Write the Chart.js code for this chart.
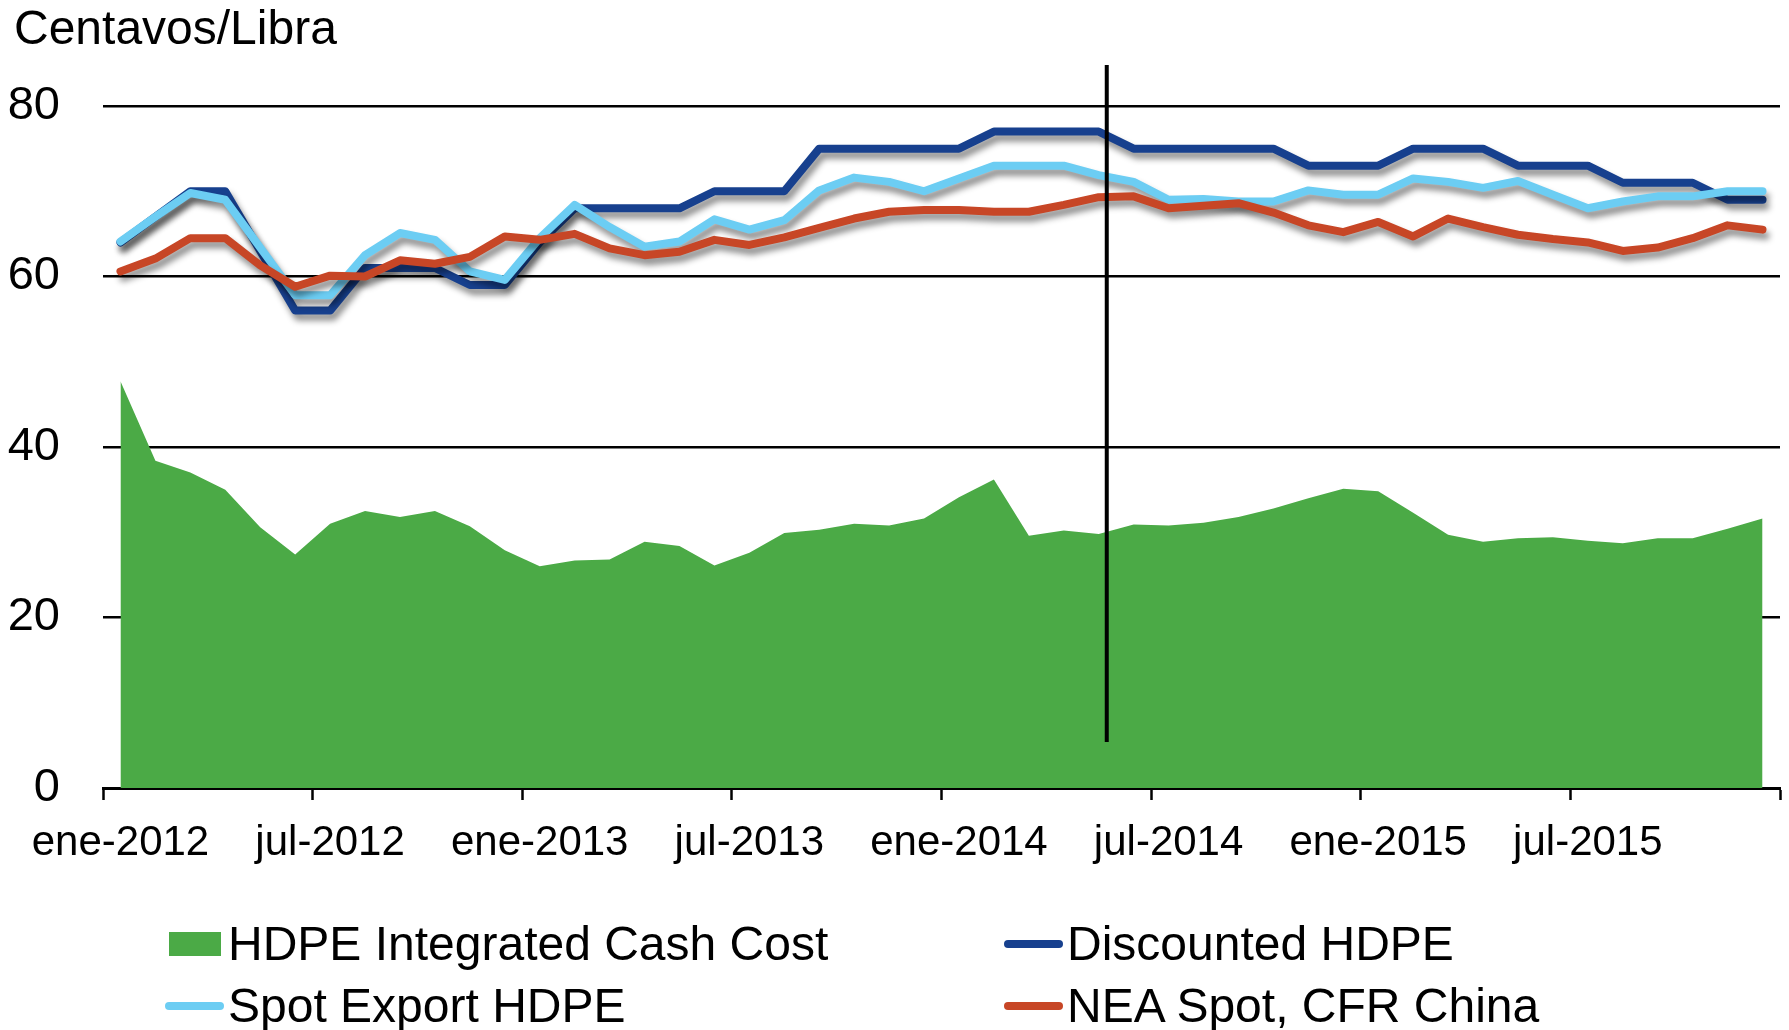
<!DOCTYPE html>
<html>
<head>
<meta charset="utf-8">
<script src="https://cdn.jsdelivr.net/npm/chart.js@4.4.1/dist/chart.umd.min.js"></script>
<style>
  html, body { margin: 0; padding: 0; background: #fff; }
  #wrap { position: relative; width: 1789px; height: 1030px; font-family: "Liberation Sans", Arial, sans-serif; color: #000; overflow: hidden; }
  #wrap canvas { position: absolute; left: 0; top: 0; }
  #title { position: absolute; left: 14px; top: 4px; font-size: 48px; line-height: 48px; white-space: nowrap; }
  #legend { position: absolute; left: 165px; top: 920px; display: grid; grid-template-columns: 839px auto; grid-auto-rows: 62px; }
  .item { display: flex; align-items: center; height: 48px; font-size: 48px; line-height: 48px; white-space: nowrap; }
  .mk { position: relative; width: 59px; height: 48px; margin-right: 4px; flex: none; }
  .mk span { position: absolute; display: block; }
  .mk .box { left: 4px; top: 12px; width: 52px; height: 24px; }
  .mk .ln { left: 0; top: 20px; width: 59px; height: 8px; border-radius: 4px; }
</style>
</head>
<body>
<div id="wrap">
  <canvas id="c" width="1789" height="1030"></canvas>
  <div id="title">Centavos/Libra</div>
  <div id="legend"></div>
</div>
<script>
// ---- Data ----
const months = [
  'ene-2012','feb-2012','mar-2012','abr-2012','may-2012','jun-2012','jul-2012','ago-2012','sep-2012','oct-2012','nov-2012','dic-2012',
  'ene-2013','feb-2013','mar-2013','abr-2013','may-2013','jun-2013','jul-2013','ago-2013','sep-2013','oct-2013','nov-2013','dic-2013',
  'ene-2014','feb-2014','mar-2014','abr-2014','may-2014','jun-2014','jul-2014','ago-2014','sep-2014','oct-2014','nov-2014','dic-2014',
  'ene-2015','feb-2015','mar-2015','abr-2015','may-2015','jun-2015','jul-2015','ago-2015','sep-2015','oct-2015','nov-2015','dic-2015'
];
const tickLabels = ['ene-2012','jul-2012','ene-2013','jul-2013','ene-2014','jul-2014','ene-2015','jul-2015'];
const tickEvery = 6;

const cashCost = [47.7, 38.4, 37.0, 35.0, 30.6, 27.4, 31.0, 32.5, 31.8, 32.5, 30.7, 27.9,
                  26.0, 26.7, 26.8, 28.9, 28.4, 26.1, 27.6, 29.9, 30.3, 31.0, 30.8, 31.6,
                  34.1, 36.2, 29.6, 30.2, 29.8, 30.9, 30.8, 31.1, 31.8, 32.8, 34.0, 35.1,
                  34.8, 32.3, 29.7, 28.9, 29.3, 29.4, 29.0, 28.7, 29.3, 29.3, 30.4, 31.6];
const discounted = [64, 67, 70, 70, 63, 56, 56, 61, 61, 61, 59, 59,
                    64, 68, 68, 68, 68, 70, 70, 70, 75, 75, 75, 75,
                    75, 77, 77, 77, 77, 75, 75, 75, 75, 75, 73, 73,
                    73, 75, 75, 75, 73, 73, 73, 71, 71, 71, 69, 69];
const spotExport = [64.1, 67.0, 69.8, 69.0, 63.4, 57.8, 57.8, 62.5, 65.1, 64.3, 60.6, 59.6,
                    64.5, 68.4, 65.8, 63.5, 64.1, 66.7, 65.5, 66.6, 70.1, 71.6, 71.1, 70.0,
                    71.5, 73.0, 73.0, 73.0, 71.9, 71.1, 69.0, 69.1, 68.8, 68.8, 70.1, 69.6,
                    69.6, 71.5, 71.1, 70.4, 71.2, 69.6, 68.0, 68.8, 69.4, 69.4, 70.0, 70.0];
const neaSpot = [60.6, 62.1, 64.5, 64.5, 61.3, 58.8, 60.1, 60.0, 61.9, 61.5, 62.3, 64.7,
                 64.3, 65.0, 63.3, 62.5, 62.9, 64.3, 63.7, 64.6, 65.7, 66.8, 67.6, 67.8,
                 67.8, 67.6, 67.6, 68.4, 69.3, 69.4, 68.0, 68.3, 68.6, 67.5, 66.0, 65.2,
                 66.4, 64.7, 66.8, 65.8, 64.9, 64.4, 64.0, 63.0, 63.4, 64.5, 66.0, 65.5];

const seriesNames = ['HDPE Integrated Cash Cost', 'Discounted HDPE', 'Spot Export HDPE', 'NEA Spot, CFR China'];
const seriesColors = ['#4BAA46', '#17408E', '#6CCDF3', '#C74626'];

// vertical marker (in data units: category position, value range)
const markerIndex = 28.23;
const markerTop = 84.8;
const markerBottom = 5.4;

const yMin = 0, yMax = 80, yStep = 20;

// ---- Plugins ----
const lineShadow = {
  id: 'lineShadow',
  beforeDatasetDraw(chart, args) {
    const ds = chart.data.datasets[args.index];
    if (!ds.fill) {
      const ctx = chart.ctx;
      ctx.save();
      ctx.shadowColor = 'rgba(0,0,0,0.45)';
      ctx.shadowBlur = 6;
      ctx.shadowOffsetX = 3;
      ctx.shadowOffsetY = 6;
    }
  },
  afterDatasetDraw(chart, args) {
    const ds = chart.data.datasets[args.index];
    if (!ds.fill) chart.ctx.restore();
  }
};

const markerLine = {
  id: 'markerLine',
  afterDatasetsDraw(chart) {
    const { ctx, scales: { x, y } } = chart;
    const px = x.getPixelForValue(markerIndex);
    ctx.save();
    ctx.strokeStyle = '#000';
    ctx.lineWidth = 4;
    ctx.beginPath();
    ctx.moveTo(px, y.getPixelForValue(markerTop));
    ctx.lineTo(px, y.getPixelForValue(markerBottom));
    ctx.stroke();
    ctx.restore();
  }
};

const lineCommon = { type: 'line', fill: false, borderWidth: 8, pointRadius: 0, pointHoverRadius: 0, tension: 0,
                     borderCapStyle: 'round', borderJoinStyle: 'round' };

const chart = new Chart(document.getElementById('c'), {
  data: {
    labels: months,
    datasets: [
      { type: 'line', label: seriesNames[0], data: cashCost, fill: 'origin', backgroundColor: seriesColors[0],
        borderColor: seriesColors[0], borderWidth: 0, pointRadius: 0, pointHoverRadius: 0, tension: 0, order: 4 },
      Object.assign({}, lineCommon, { label: seriesNames[1], data: discounted, borderColor: seriesColors[1], backgroundColor: seriesColors[1], order: 3 }),
      Object.assign({}, lineCommon, { label: seriesNames[2], data: spotExport, borderColor: seriesColors[2], backgroundColor: seriesColors[2], order: 2 }),
      Object.assign({}, lineCommon, { label: seriesNames[3], data: neaSpot, borderColor: seriesColors[3], backgroundColor: seriesColors[3], order: 1 })
    ]
  },
  options: {
    responsive: false,
    animation: false,
    events: [],
    layout: { padding: { top: 106, right: 9, left: 0, bottom: 0 } },
    plugins: { legend: { display: false }, tooltip: { enabled: false }, title: { display: false } },
    scales: {
      x: {
        type: 'category',
        offset: true,
        afterFit(scale) { scale.height = 242; },
        border: { display: true, color: '#000', width: 3 },
        grid: {
          offset: true,
          drawOnChartArea: false,
          drawTicks: true,
          tickLength: 12,
          tickWidth: 2.5,
          tickColor: (ctx) => (ctx.index === undefined || ctx.index % tickEvery === 0) ? '#000' : 'rgba(0,0,0,0)'
        },
        ticks: {
          autoSkip: false,
          maxRotation: 0,
          minRotation: 0,
          padding: 18,
          color: '#000',
          font: { family: '"Liberation Sans", Arial, sans-serif', size: 42 },
          callback: (val, idx) => idx % tickEvery === 0 ? tickLabels[idx / tickEvery] : ''
        }
      },
      y: {
        min: yMin, max: yMax,
        afterFit(scale) { scale.width = 103; },
        border: { display: false },
        grid: { color: '#000', lineWidth: 2.5, drawTicks: false },
        ticks: {
          stepSize: yStep,
          padding: 43,
          color: '#000',
          font: { family: '"Liberation Sans", Arial, sans-serif', size: 47 }
        }
      }
    }
  },
  plugins: [lineShadow, markerLine]
});

// ---- HTML legend built from the datasets ----
const legend = document.getElementById('legend');
chart.data.datasets.forEach((ds) => {
  const item = document.createElement('div');
  item.className = 'item';
  const mk = document.createElement('div');
  mk.className = 'mk';
  const sw = document.createElement('span');
  sw.className = ds.fill ? 'box' : 'ln';
  sw.style.background = ds.fill ? ds.backgroundColor : ds.borderColor;
  mk.appendChild(sw);
  const tx = document.createElement('span');
  tx.textContent = ds.label;
  item.appendChild(mk);
  item.appendChild(tx);
  legend.appendChild(item);
});
</script>
</body>
</html>
